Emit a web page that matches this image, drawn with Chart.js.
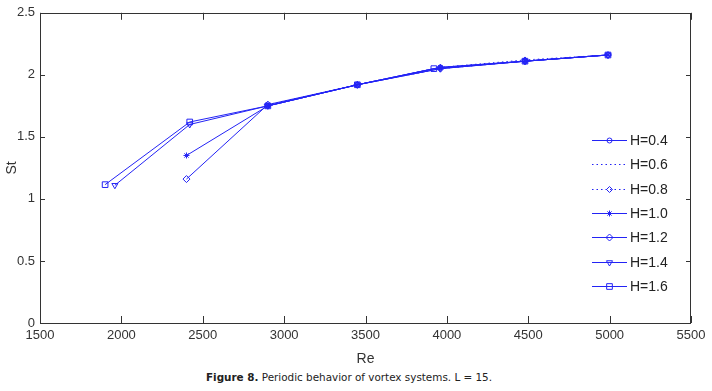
<!DOCTYPE html>
<html>
<head>
<meta charset="utf-8">
<script src="https://cdn.jsdelivr.net/npm/chart.js@4/dist/chart.umd.min.js"></script>
<style>
    html, body { margin: 0; padding: 0; background: #fff; }
    #wrap { position: relative; width: 712px; height: 391px; }
    #chartSt { position: absolute; left: 0; top: 0; }
    #caption {
        position: absolute; left: 206px; top: 371px;
        font-family: "DejaVu Sans", sans-serif; font-size: 10.4px; color: #222;
        white-space: nowrap;
    }
</style>
</head>
<body>
<div id="wrap">
    <div style="position:absolute;left:0;top:0;width:712px;height:368px;">
        <canvas id="chartSt"></canvas>
    </div>
    <div id="caption"><b>Figure 8.</b> Periodic behavior of vortex systems. L = 15.</div>
</div>
<script>
// datos
const xTicks = [1500, 2000, 2500, 3000, 3500, 4000, 4500, 5000, 5500];
const yTicks = [0, 0.5, 1, 1.5, 2, 2.5];

const labelsH = ['H=0.4', 'H=0.6', 'H=0.8', 'H=1.0', 'H=1.2', 'H=1.4', 'H=1.6'];

const re04 = [2900, 3450, 3960, 4480, 4990];
const st04 = [1.75, 1.92, 2.06, 2.11, 2.16];
const re06 = [2900, 3450, 3960, 4480, 4990];
const st06 = [1.76, 1.92, 2.05, 2.11, 2.16];
const re08 = [2900, 3450, 3960, 4480, 4990];
const st08 = [1.75, 1.92, 2.06, 2.12, 2.16];
const re10 = [2400, 2900, 3450, 3960, 4480, 4990];
const st10 = [1.35, 1.75, 1.92, 2.06, 2.11, 2.16];
const re12 = [2400, 2900, 3450, 3960, 4480, 4990];
const st12 = [1.16, 1.76, 1.92, 2.05, 2.11, 2.16];
const re14 = [1960, 2420, 2900, 3450, 3960, 4480, 4990];
const st14 = [1.11, 1.60, 1.75, 1.92, 2.05, 2.11, 2.16];
const re16 = [1900, 2420, 2900, 3450, 3920, 4480, 4990];
const st16 = [1.115, 1.62, 1.75, 1.92, 2.05, 2.11, 2.16];

const reSeries = [re04, re06, re08, re10, re12, re14, re16];
const stSeries = [st04, st06, st08, st10, st12, st14, st16];

const BLUE = 'rgb(35,35,245)';
const FUENTE = 'Arial, "Liberation Sans", sans-serif';
const estilos = [
    { pointStyle: 'circle',   radius: 2.5, dash: [] },
    { pointStyle: false,      radius: 0,   dash: [1.5, 3] },
    { pointStyle: 'rectRot',  radius: 3,   dash: [1.5, 3] },
    { pointStyle: 'star',     radius: 3,   dash: [] },
    { pointStyle: 'rectRot',  radius: 3.5, dash: [] },
    { pointStyle: 'triangle', radius: 3.5, dash: [], rotation: 180 },
    { pointStyle: 'rect',     radius: 4,   dash: [] }
];

const datasets = labelsH.map((lbl, i) => ({
    label: lbl,
    data: reSeries[i].map((re, k) => ({ x: re, y: stSeries[i][k] })),
    borderColor: BLUE,
    borderWidth: 1,
    borderDash: estilos[i].dash,
    pointStyle: estilos[i].pointStyle,
    pointRadius: estilos[i].radius,
    pointRotation: estilos[i].rotation || 0,
    pointBorderColor: BLUE,
    pointBackgroundColor: 'rgba(0,0,0,0)',
    pointBorderWidth: 1,
    fill: false,
    tension: 0
}));

// caja, ticks hacia dentro y leyenda dentro del area
const marcoPlugin = {
    id: 'marco',
    afterDatasetsDraw(chart) {
        const ctx = chart.ctx;
        const a = chart.chartArea;
        const sx = chart.scales.x, sy = chart.scales.y;
        ctx.save();
        ctx.strokeStyle = '#333';
        ctx.lineWidth = 1;
        ctx.beginPath();
        xTicks.forEach(t => {
            const px = Math.round(sx.getPixelForValue(t)) + 0.5;
            ctx.moveTo(px, a.bottom); ctx.lineTo(px, a.bottom - 7);
            ctx.moveTo(px, a.top); ctx.lineTo(px, a.top + 7);
        });
        yTicks.forEach(t => {
            const py = Math.round(sy.getPixelForValue(t)) + 0.5;
            ctx.moveTo(a.left, py); ctx.lineTo(a.left + 5, py);
            ctx.moveTo(a.right, py); ctx.lineTo(a.right - 5, py);
        });
        ctx.stroke();
        ctx.strokeRect(Math.round(a.left) + 0.5, Math.round(a.top) + 0.5,
            Math.round(a.right - a.left) - 1, Math.round(a.bottom - a.top));

        // leyenda
        const x0 = 592, x1 = 627, y0 = 140, paso = 24.3;
        chart.data.datasets.forEach((ds, i) => {
            const y = Math.round(y0 + i * paso) + 0.5;
            ctx.strokeStyle = BLUE;
            ctx.lineWidth = 1;
            ctx.setLineDash(ds.borderDash);
            ctx.beginPath();
            ctx.moveTo(x0, y); ctx.lineTo(x1, y);
            ctx.stroke();
            ctx.setLineDash([]);
            if (ds.pointStyle) {
                ctx.strokeStyle = BLUE;
                ctx.fillStyle = 'rgba(0,0,0,0)';
                Chart.helpers.drawPoint(ctx, {
                    pointStyle: ds.pointStyle, radius: ds.pointRadius,
                    rotation: ds.pointRotation, borderWidth: 1
                }, (x0 + x1) / 2, y);
            }
            ctx.fillStyle = '#222';
            ctx.font = '14px ' + FUENTE;
            ctx.textBaseline = 'middle';
            ctx.textAlign = 'left';
            ctx.fillText(ds.label, 630, y + 1);
        });
        ctx.restore();
    }
};

new Chart(document.getElementById('chartSt'), {
    type: 'line',
    data: { datasets: datasets },
    options: {
        responsive: true,
        maintainAspectRatio: false,
        animation: false,
        layout: { padding: { left: 0, top: 7, right: 21, bottom: 0 } },
        plugins: { legend: { display: false }, tooltip: { enabled: false } },
        scales: {
            x: {
                type: 'linear', min: 1500, max: 5500,
                afterBuildTicks: s => { s.ticks = xTicks.map(v => ({ value: v })); },
                afterFit: s => { s.height = 45; },
                grid: { display: false, drawTicks: false },
                border: { display: false },
                ticks: { padding: 5, color: '#333', font: { family: FUENTE, size: 13 }, maxRotation: 0, callback: v => String(v) },
                title: { display: true, text: 'Re', color: '#333', padding: { top: 5, bottom: 0 }, font: { family: FUENTE, size: 14 } }
            },
            y: {
                min: 0, max: 2.5,
                afterBuildTicks: s => { s.ticks = yTicks.map(v => ({ value: v })); },
                afterFit: s => { s.width = 40; },
                grid: { display: false, drawTicks: false },
                border: { display: false },
                ticks: { padding: 5, color: '#333', font: { family: FUENTE, size: 13 }, callback: v => String(v) },
                title: { display: true, text: 'St', color: '#333', padding: { top: 4, bottom: 0 }, font: { family: FUENTE, size: 14 } }
            }
        }
    },
    plugins: [marcoPlugin]
});
</script>
</body>
</html>
